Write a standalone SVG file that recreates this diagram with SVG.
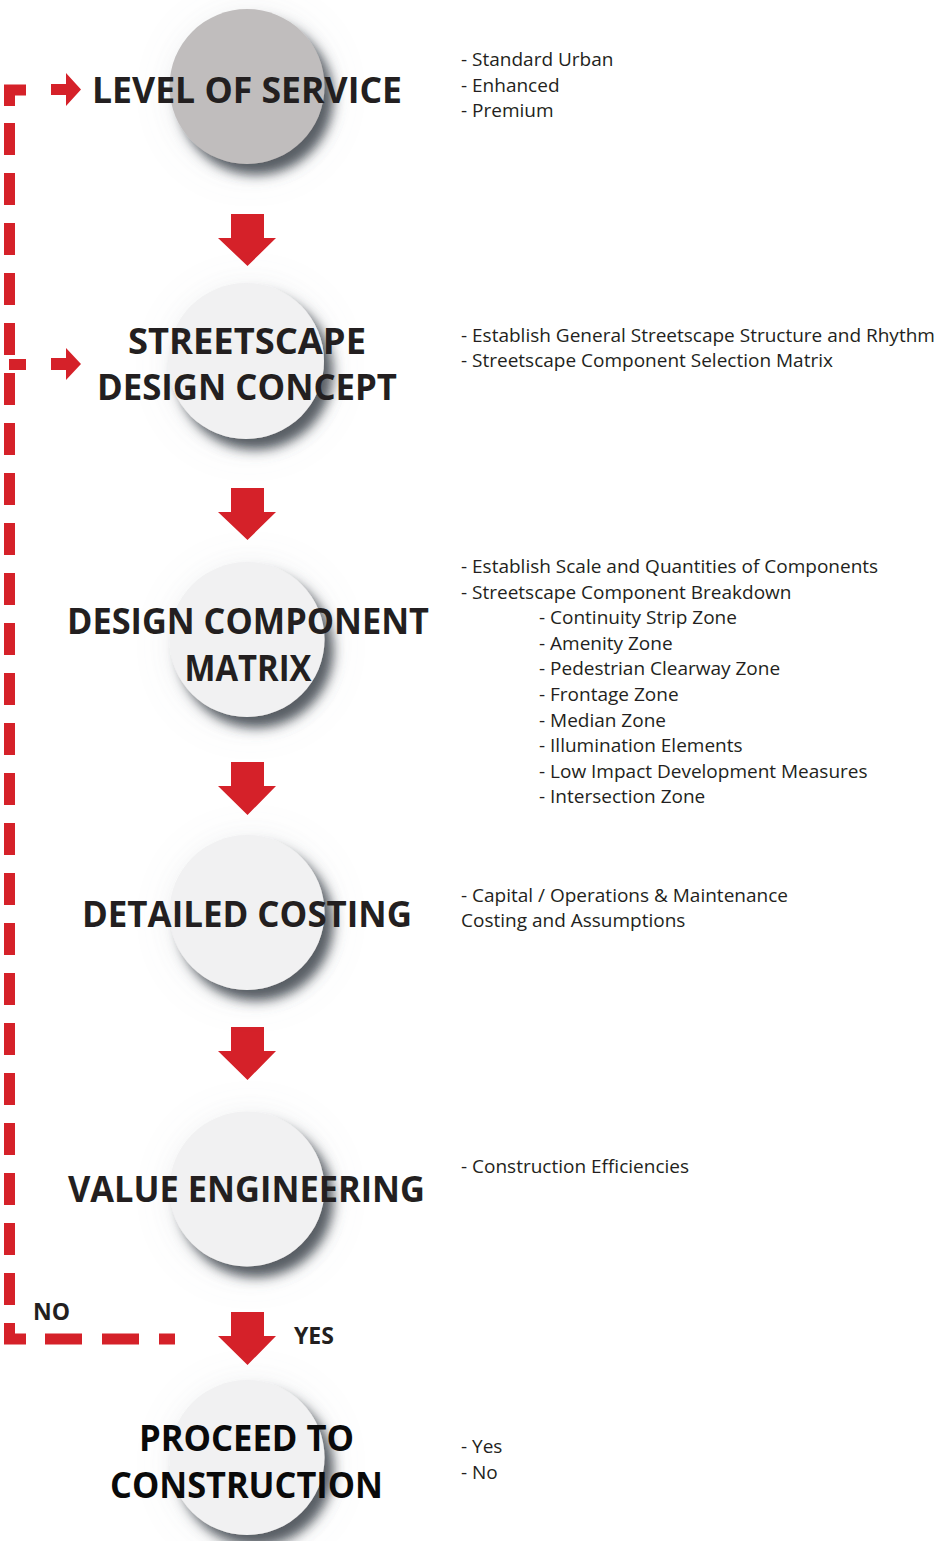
<svg xmlns="http://www.w3.org/2000/svg" width="935" height="1541" viewBox="0 0 935 1541">
<style>
.title{font-family:"Open Sans","Noto Sans",sans-serif;font-weight:bold;font-size:35px;fill:#231f20;text-anchor:middle}
.title2{font-family:"Open Sans","Noto Sans",sans-serif;font-weight:bold;font-size:35px;fill:#0a0a0a;text-anchor:middle}
.lbl{font-family:"Open Sans","Noto Sans",sans-serif;font-weight:bold;font-size:23px;fill:#231f20}
.desc{font-family:"Open Sans","Noto Sans",sans-serif;font-size:19px;fill:#231f20}
.red{fill:#d52129}
.dash{fill:none;stroke:#d52129;stroke-width:11;stroke-linejoin:miter;stroke-linecap:butt}
.c{fill:#f1f1f2;filter:url(#sh)}
</style>
<defs>
<filter id="sh" x="-50%" y="-50%" width="200%" height="200%">
<feGaussianBlur in="SourceAlpha" stdDeviation="18" result="b1"/>
<feOffset in="b1" dx="4" dy="6" result="o1"/>
<feFlood flood-color="#8a9098" flood-opacity="0.18"/>
<feComposite in2="o1" operator="in" result="halo"/>
<feGaussianBlur in="SourceAlpha" stdDeviation="6" result="b2"/>
<feOffset in="b2" dx="9" dy="11" result="o2"/>
<feFlood flood-color="#3c434b" flood-opacity="0.85"/>
<feComposite in2="o2" operator="in" result="drop"/>
<feMerge><feMergeNode in="halo"/><feMergeNode in="drop"/><feMergeNode in="SourceGraphic"/></feMerge>
</filter>
</defs>

<g id="connectors">
<path class="dash" d="M26 90 H9.5 V106"/>
<path class="dash" d="M9.5 123 V1305" stroke-dasharray="32 18"/>
<path class="dash" d="M9.5 1323 V1339 H26"/>
<path class="dash" d="M45 1339 H175" stroke-dasharray="37 20"/>
<path class="dash" d="M9 364.5 H26"/>
<polygon class="red" points="51,84 66,84 66,73 81,89.5 66,106 66,95 51,95"/>
<polygon class="red" points="51,358 66,358 66,348 81,364 66,380 66,370 51,370"/>
<polygon class="red" points="231,214 264,214 264,238 276,238 247.5,266 218,238 231,238"/>
<polygon class="red" points="231,488 264,488 264,512 276,512 247.5,540 218,512 231,512"/>
<polygon class="red" points="231,762 264,762 264,786 276,786 247.5,815 218,786 231,786"/>
<polygon class="red" points="231,1027 264,1027 264,1051 276,1051 247.5,1080 218,1051 231,1051"/>
<polygon class="red" points="231,1312 264,1312 264,1336 276,1336 247.5,1365 218,1336 231,1336"/>
<text class="lbl" x="33" y="1320">NO</text>
<text class="lbl" x="294" y="1344">YES</text>
</g>

<g id="level-of-service">
<circle cx="247" cy="86.5" r="77.5" style="fill:#c0bdbd;filter:url(#sh)"/>
<text class="title" x="247" y="103" textLength="310" lengthAdjust="spacingAndGlyphs">LEVEL OF SERVICE</text>
<text class="desc" x="461" y="66">- Standard Urban</text>
<text class="desc" x="461" y="92">- Enhanced</text>
<text class="desc" x="461" y="117">- Premium</text>
</g>

<g id="streetscape-design-concept">
<circle class="c" cx="246" cy="361" r="78"/>
<text class="title" x="247" y="354" textLength="238" lengthAdjust="spacingAndGlyphs">STREETSCAPE</text>
<text class="title" x="247" y="400" textLength="300" lengthAdjust="spacingAndGlyphs">DESIGN CONCEPT</text>
<text class="desc" x="461" y="342">- Establish General Streetscape Structure and Rhythm</text>
<text class="desc" x="461" y="367">- Streetscape Component Selection Matrix</text>
</g>

<g id="design-component-matrix">
<circle class="c" cx="247" cy="639.5" r="77.5"/>
<text class="title" x="248" y="634" textLength="362" lengthAdjust="spacingAndGlyphs">DESIGN COMPONENT</text>
<text class="title" x="248" y="681" textLength="127" lengthAdjust="spacingAndGlyphs">MATRIX</text>
<text class="desc" x="461" y="573">- Establish Scale and Quantities of Components</text>
<text class="desc" x="461" y="599">- Streetscape Component Breakdown</text>
<text class="desc" x="539" y="624">- Continuity Strip Zone</text>
<text class="desc" x="539" y="650">- Amenity Zone</text>
<text class="desc" x="539" y="675">- Pedestrian Clearway Zone</text>
<text class="desc" x="539" y="701">- Frontage Zone</text>
<text class="desc" x="539" y="727">- Median Zone</text>
<text class="desc" x="539" y="752">- Illumination Elements</text>
<text class="desc" x="539" y="778">- Low Impact Development Measures</text>
<text class="desc" x="539" y="803">- Intersection Zone</text>
</g>

<g id="detailed-costing">
<circle class="c" cx="247" cy="912.5" r="77.5"/>
<text class="title" x="247" y="927" textLength="330" lengthAdjust="spacingAndGlyphs">DETAILED COSTING</text>
<text class="desc" x="461" y="902">- Capital / Operations &amp; Maintenance</text>
<text class="desc" x="461" y="927">Costing and Assumptions</text>
</g>

<g id="value-engineering">
<circle class="c" cx="247" cy="1189" r="77.5"/>
<text class="title" x="246.5" y="1202" textLength="357" lengthAdjust="spacingAndGlyphs">VALUE ENGINEERING</text>
<text class="desc" x="461" y="1173">- Construction Efficiencies</text>
</g>

<g id="proceed-to-construction">
<circle class="c" cx="247" cy="1457.5" r="77.5"/>
<text class="title2" x="246.5" y="1451" textLength="215" lengthAdjust="spacingAndGlyphs">PROCEED TO</text>
<text class="title2" x="246.5" y="1498" textLength="273" lengthAdjust="spacingAndGlyphs">CONSTRUCTION</text>
<text class="desc" x="461" y="1453">- Yes</text>
<text class="desc" x="461" y="1479">- No</text>
</g>
</svg>
